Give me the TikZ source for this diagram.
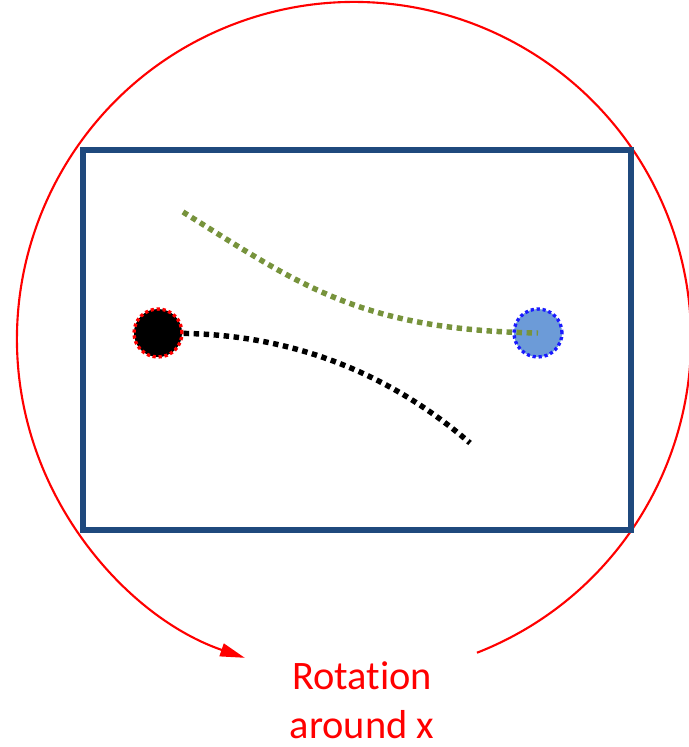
\documentclass[tikz,border=0pt]{standalone}
\usepackage{fontspec}
\setmainfont[Ligatures=NoCommon]{Carlito}
\usetikzlibrary{arrows.meta}
\definecolor{RotRed}{HTML}{FF0000}
\definecolor{Frame}{HTML}{1F497D}
\definecolor{PathG}{HTML}{77933C}
\definecolor{BallB}{HTML}{6C9BD8}
\definecolor{RimB}{HTML}{1A1AFF}

\begin{document}
\begin{tikzpicture}[x=.02cm,y=.02cm,
  ball/.style={circle,minimum size=.96cm,inner sep=0pt,line width=1.9pt,dash pattern=on 1.8pt off 1.6pt},
  track/.style={line width=3.1pt,dash pattern=on 3.1pt off 2.6pt}]
\useasboundingbox (0,0) rectangle (689,747);
% rotation circle
\draw[RotRed,line width=1.2pt,-{Triangle[length=14pt,width=7.5pt]}] (354,408) ++(-68.6:337) arc[start angle=-68.6,end angle=251.1,radius=337];
\draw[Frame,line width=3.4pt] (83,597) rectangle (631,217);
\node[ball,fill=black,draw=RotRed] (src) at (158,414) {};
\node[ball,fill=BallB,draw=RimB] (dst) at (538,414) {};
\coordinate (gstart) at (183,535);
\coordinate (kend) at (470,304);
\draw[track,PathG] (gstart) .. controls (300,462) and (360,417) .. (dst.center);
\draw[track,black] (src) .. controls (280,412) and (380,382) .. (kend);
\node[RotRed,align=center,font=\fontsize{23}{28}\selectfont] (lbl) at (362,47) {Rotation\\around x};
\end{tikzpicture}
\end{document}
